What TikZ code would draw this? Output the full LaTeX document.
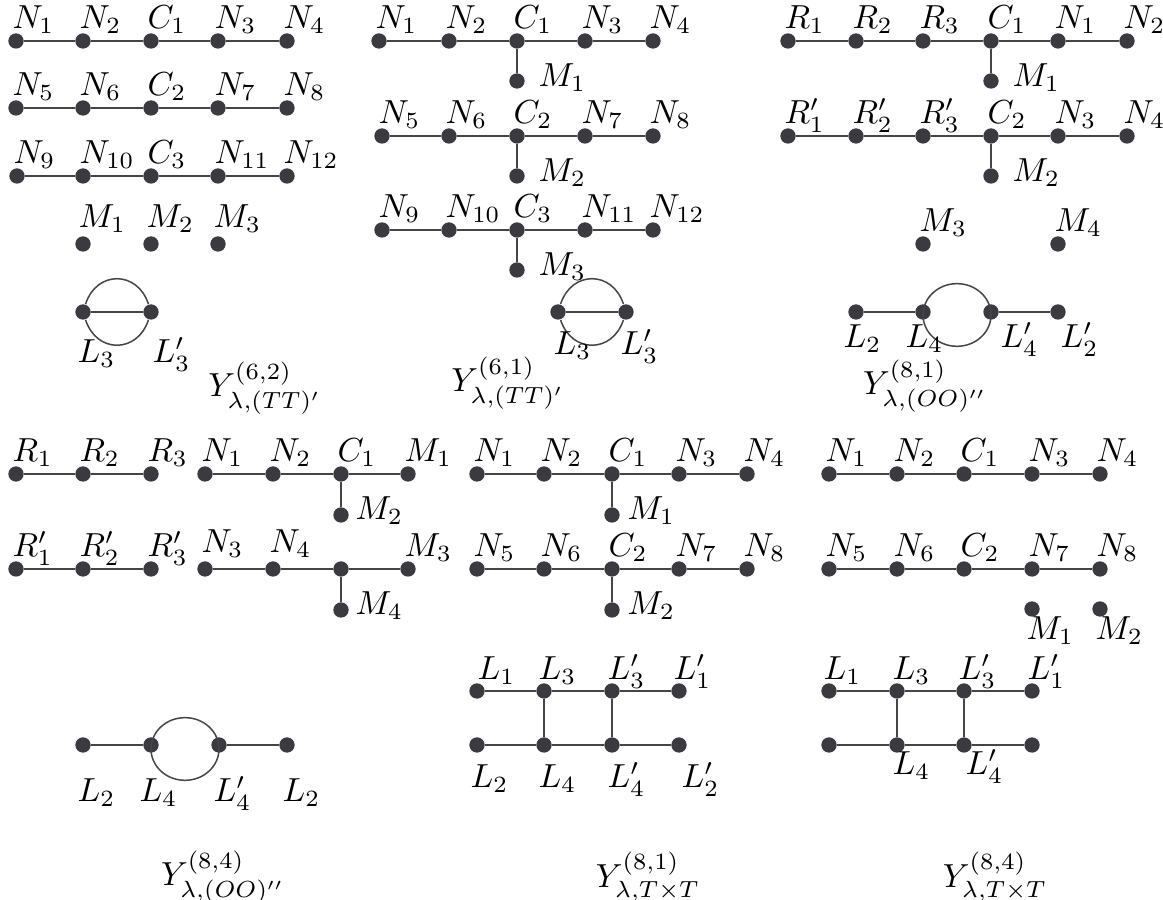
\documentclass[tikz,border=0pt]{standalone}
\definecolor{dotc}{HTML}{3A3A40}
\definecolor{linec}{HTML}{454545}
\tikzset{
  dot/.style={circle, fill=dotc, inner sep=0pt, minimum size=4.6pt},
  edge/.style={draw=linec, line width=0.45pt},
  lab/.style={inner sep=0pt, anchor=base west},
  ttl/.style={inner sep=0pt}
}
\newcommand\mkv[3]{\node[dot] (#1) at (#2,#3) {};}
\newcommand\mkva[4]{\node[dot] (#1) at (#2,#3) {};\node[lab] (l#1) at ([shift={(-4,12)}]#1) {$#4$};}
\newcommand\mklab[4]{\node[lab] (#1) at (#2,#3) {$#4$};}
\begin{document}
\begin{tikzpicture}[x=0.3pt,y=0.3pt]
\useasboundingbox (0,0) rectangle (1163,900);
% ---------- Panel 1 ----------
\mkva{a1}{16}{859}{N_1}\mkva{a2}{83}{859}{N_2}\mkva{a3}{151}{859}{C_1}\mkva{a4}{218}{859}{N_3}\mkva{a5}{287}{859}{N_4}
\mkva{a6}{16}{792}{N_5}\mkva{a7}{83}{792}{N_6}\mkva{a8}{151}{792}{C_2}\mkva{a9}{218}{792}{N_7}\mkva{a10}{287}{792}{N_8}
\mkva{a11}{17}{724}{N_9}\mkva{a12}{83}{724}{N_{10}}\mkva{a13}{151}{724}{C_3}\mkva{a14}{218}{724}{N_{11}}\mkva{a15}{287}{724}{N_{12}}
\draw[edge] (a1)--(a2)--(a3)--(a4)--(a5);
\draw[edge] (a6)--(a7)--(a8)--(a9)--(a10);
\draw[edge] (a11)--(a12)--(a13)--(a14)--(a15);
\node[dot] (am1) at (83,656) {};\node[lab] (lam1) at (78,672) {$M_1$};
\node[dot] (am2) at (151,656) {};\node[lab] (lam2) at (146,672) {$M_2$};
\node[dot] (am3) at (218,656) {};\node[lab] (lam3) at (213,672) {$M_3$};
\mkv{al3}{83}{588}\mkv{al3p}{151}{588}
\draw[edge] (al3)--(al3p);
\draw[edge] (al3) to[out=72,in=108,looseness=1.45] (al3p);
\draw[edge] (al3) to[out=-72,in=-108,looseness=1.45] (al3p);
\mklab{lal3}{77}{537}{L_3}\mklab{lal3p}{152}{537}{L'_3}
\node[ttl] (t1) at (265,512) {$Y^{(6,2)}_{\lambda,(TT)'}$};
% ---------- Panel 2 ----------
\mkva{b1}{379}{859}{N_1}\mkva{b2}{449}{859}{N_2}\mkva{b3}{517}{859}{C_1}\mkva{b4}{585}{859}{N_3}\mkva{b5}{653}{859}{N_4}
\mkva{b6}{382}{764}{N_5}\mkva{b7}{449}{764}{N_6}\mkva{b8}{517}{764}{C_2}\mkva{b9}{585}{764}{N_7}\mkva{b10}{653}{764}{N_8}
\mkva{b11}{382}{670}{N_9}\mkva{b12}{449}{670}{N_{10}}\mkva{b13}{517}{670}{C_3}\mkva{b14}{585}{670}{N_{11}}\mkva{b15}{653}{670}{N_{12}}
\mkv{bm1}{517}{819}\mkv{bm2}{517}{724}\mkv{bm3}{517}{630}
\mklab{lbm1}{538}{813}{M_1}\mklab{lbm2}{538}{718}{M_2}\mklab{lbm3}{538}{624}{M_3}
\draw[edge] (b1)--(b2)--(b3)--(b4)--(b5);
\draw[edge] (b6)--(b7)--(b8)--(b9)--(b10);
\draw[edge] (b11)--(b12)--(b13)--(b14)--(b15);
\draw[edge] (b3)--(bm1);\draw[edge] (b8)--(bm2);\draw[edge] (b13)--(bm3);
\mkv{bl3}{558}{588}\mkv{bl3p}{626}{588}
\draw[edge] (bl3)--(bl3p);
\draw[edge] (bl3) to[out=72,in=108,looseness=1.45] (bl3p);
\draw[edge] (bl3) to[out=-72,in=-108,looseness=1.45] (bl3p);
\mklab{lbl3}{553}{545}{L_3}\mklab{lbl3p}{620}{545}{L'_3}
\node[ttl] (t2) at (508,517) {$Y^{(6,1)}_{\lambda,(TT)'}$};
% ---------- Panel 3 ----------
\mkva{c1}{788}{859}{R_1}\mkva{c2}{856}{859}{R_2}\mkva{c3}{923}{859}{R_3}\mkva{c4}{991}{859}{C_1}\mkva{c5}{1058}{859}{N_1}\mkva{c6}{1127}{859}{N_2}
\mkva{c7}{788}{764}{R'_1}\mkva{c8}{856}{764}{R'_2}\mkva{c9}{923}{764}{R'_3}\mkva{c10}{991}{764}{C_2}\mkva{c11}{1058}{764}{N_3}\mkva{c12}{1127}{764}{N_4}
\mkv{cm1}{991}{819}\mkv{cm2}{991}{724}
\mklab{lcm1}{1012}{813}{M_1}\mklab{lcm2}{1012}{718}{M_2}
\draw[edge] (c1)--(c2)--(c3)--(c4)--(c5)--(c6);
\draw[edge] (c7)--(c8)--(c9)--(c10)--(c11)--(c12);
\draw[edge] (c4)--(cm1);\draw[edge] (c10)--(cm2);
\mkva{cm3}{923}{656}{M_3}\mkva{cm4}{1058}{656}{M_4}
\mkv{cl2}{856}{588}\mkv{cl4}{923}{588}\mkv{cl4p}{991}{588}\mkv{cl2p}{1058}{588}
\draw[edge] (cl2)--(cl4);\draw[edge] (cl4p)--(cl2p);
\coordinate (cc) at (957,585);
\draw[edge] (cc) ellipse [x radius=10.2pt, y radius=9.4pt];
\mklab{lcl2}{843}{552}{L_2}\mklab{lcl4}{905}{552}{L_4}\mklab{lcl4p}{1000}{552}{L'_4}\mklab{lcl2p}{1060}{552}{L'_2}
\node[ttl] (t3) at (925,514) {$Y^{(8,1)}_{\lambda,(OO)''}$};
% ---------- Panel 4 ----------
\mkva{d1}{16}{426}{R_1}\mkva{d2}{83}{426}{R_2}\mkva{d3}{151}{426}{R_3}
\mkva{d4}{205}{426}{N_1}\mkva{d5}{273}{426}{N_2}\mkva{d6}{341}{426}{C_1}\mkva{d7}{408}{426}{M_1}
\mkva{d8}{16}{331}{R'_1}\mkva{d9}{83}{331}{R'_2}\mkva{d10}{151}{331}{R'_3}
\mkv{d11}{205}{331}\mkv{d12}{273}{331}\mkv{d13}{341}{331}\mkva{d14}{408}{331}{M_3}
\mklab{ld11}{201}{347}{N_3}\mklab{ld12}{269}{347}{N_4}
\mkv{dm2}{341}{385}\mkv{dm4}{341}{290}
\mklab{ldm2}{355}{380}{M_2}\mklab{ldm4}{355}{285}{M_4}
\draw[edge] (d1)--(d2)--(d3);
\draw[edge] (d4)--(d5)--(d6)--(d7);
\draw[edge] (d8)--(d9)--(d10);
\draw[edge] (d11)--(d12)--(d13)--(d14);
\draw[edge] (d6)--(dm2);\draw[edge] (d13)--(dm4);
\mkv{dl2}{83}{155}\mkv{dl4}{151}{155}\mkv{dl4p}{219}{155}\mkv{dl2b}{287}{155}
\draw[edge] (dl2)--(dl4);\draw[edge] (dl4p)--(dl2b);
\coordinate (dc) at (185,151);
\draw[edge] (dc) ellipse [x radius=10.2pt, y radius=9.4pt];
\mklab{ldl2}{77}{98}{L_2}\mklab{ldl4}{139}{98}{L_4}\mklab{ldl4p}{213}{98}{L'_4}\mklab{ldl2b}{282}{98}{L_2}
\node[ttl] (t4) at (223,23) {$Y^{(8,4)}_{\lambda,(OO)''}$};
% ---------- Panel 5 ----------
\mkva{e1}{477}{426}{N_1}\mkva{e2}{544}{426}{N_2}\mkva{e3}{612}{426}{C_1}\mkva{e4}{679}{426}{N_3}\mkva{e5}{747}{426}{N_4}
\mkva{e6}{477}{331}{N_5}\mkva{e7}{544}{331}{N_6}\mkva{e8}{612}{331}{C_2}\mkva{e9}{679}{331}{N_7}\mkva{e10}{747}{331}{N_8}
\mkv{em1}{612}{385}\mkv{em2}{612}{290}
\mklab{lem1}{627}{380}{M_1}\mklab{lem2}{627}{285}{M_2}
\draw[edge] (e1)--(e2)--(e3)--(e4)--(e5);
\draw[edge] (e6)--(e7)--(e8)--(e9)--(e10);
\draw[edge] (e3)--(em1);\draw[edge] (e8)--(em2);
\mkv{el1}{477}{209}\mkv{el3}{544}{209}\mkv{el3p}{612}{209}\mkv{el1p}{679}{209}
\mkv{el2}{477}{155}\mkv{el4}{544}{155}\mkv{el4p}{612}{155}\mkv{el2p}{679}{155}
\mklab{lel1}{477}{220}{L_1}\mklab{lel3}{538}{220}{L_3}\mklab{lel3p}{607}{220}{L'_3}\mklab{lel1p}{673}{220}{L'_1}
\mklab{lel2}{470}{112}{L_2}\mklab{lel4}{538}{112}{L_4}\mklab{lel4p}{607}{112}{L'_4}\mklab{lel2p}{681}{112}{L'_2}
\draw[edge] (el1)--(el3)--(el3p)--(el1p);
\draw[edge] (el2)--(el4)--(el4p)--(el2p);
\draw[edge] (el3)--(el4);\draw[edge] (el3p)--(el4p);
\node[ttl] (t5) at (648,23) {$Y^{(8,1)}_{\lambda,T\times T}$};
% ---------- Panel 6 ----------
\mkva{f1}{829}{426}{N_1}\mkva{f2}{897}{426}{N_2}\mkva{f3}{964}{426}{C_1}\mkva{f4}{1032}{426}{N_3}\mkva{f5}{1100}{426}{N_4}
\mkva{f6}{829}{331}{N_5}\mkva{f7}{897}{331}{N_6}\mkva{f8}{964}{331}{C_2}\mkva{f9}{1032}{331}{N_7}\mkva{f10}{1100}{331}{N_8}
\draw[edge] (f1)--(f2)--(f3)--(f4)--(f5);
\draw[edge] (f6)--(f7)--(f8)--(f9)--(f10);
\mkv{fm1}{1032}{291}\mkv{fm2}{1100}{291}
\mklab{lfm1}{1026}{260}{M_1}\mklab{lfm2}{1095}{260}{M_2}
\mkv{fl1}{829}{209}\mkv{fl3}{897}{209}\mkv{fl3p}{964}{209}\mkv{fl1p}{1032}{209}
\mkv{fl2}{829}{155}\mkv{fl4}{897}{155}\mkv{fl4p}{964}{155}\mkv{fl2p}{1032}{155}
\mklab{lfl1}{823}{220}{L_1}\mklab{lfl3}{892}{220}{L_3}\mklab{lfl3p}{958}{220}{L'_3}\mklab{lfl1p}{1027}{220}{L'_1}
\mklab{lfl4}{892}{125}{L_4}\mklab{lfl4p}{965}{125}{L'_4}
\draw[edge] (fl1)--(fl3)--(fl3p)--(fl1p);
\draw[edge] (fl2)--(fl4)--(fl4p)--(fl2p);
\draw[edge] (fl3)--(fl4);\draw[edge] (fl3p)--(fl4p);
\node[ttl] (t6) at (995,23) {$Y^{(8,4)}_{\lambda,T\times T}$};
\end{tikzpicture}
\end{document}
